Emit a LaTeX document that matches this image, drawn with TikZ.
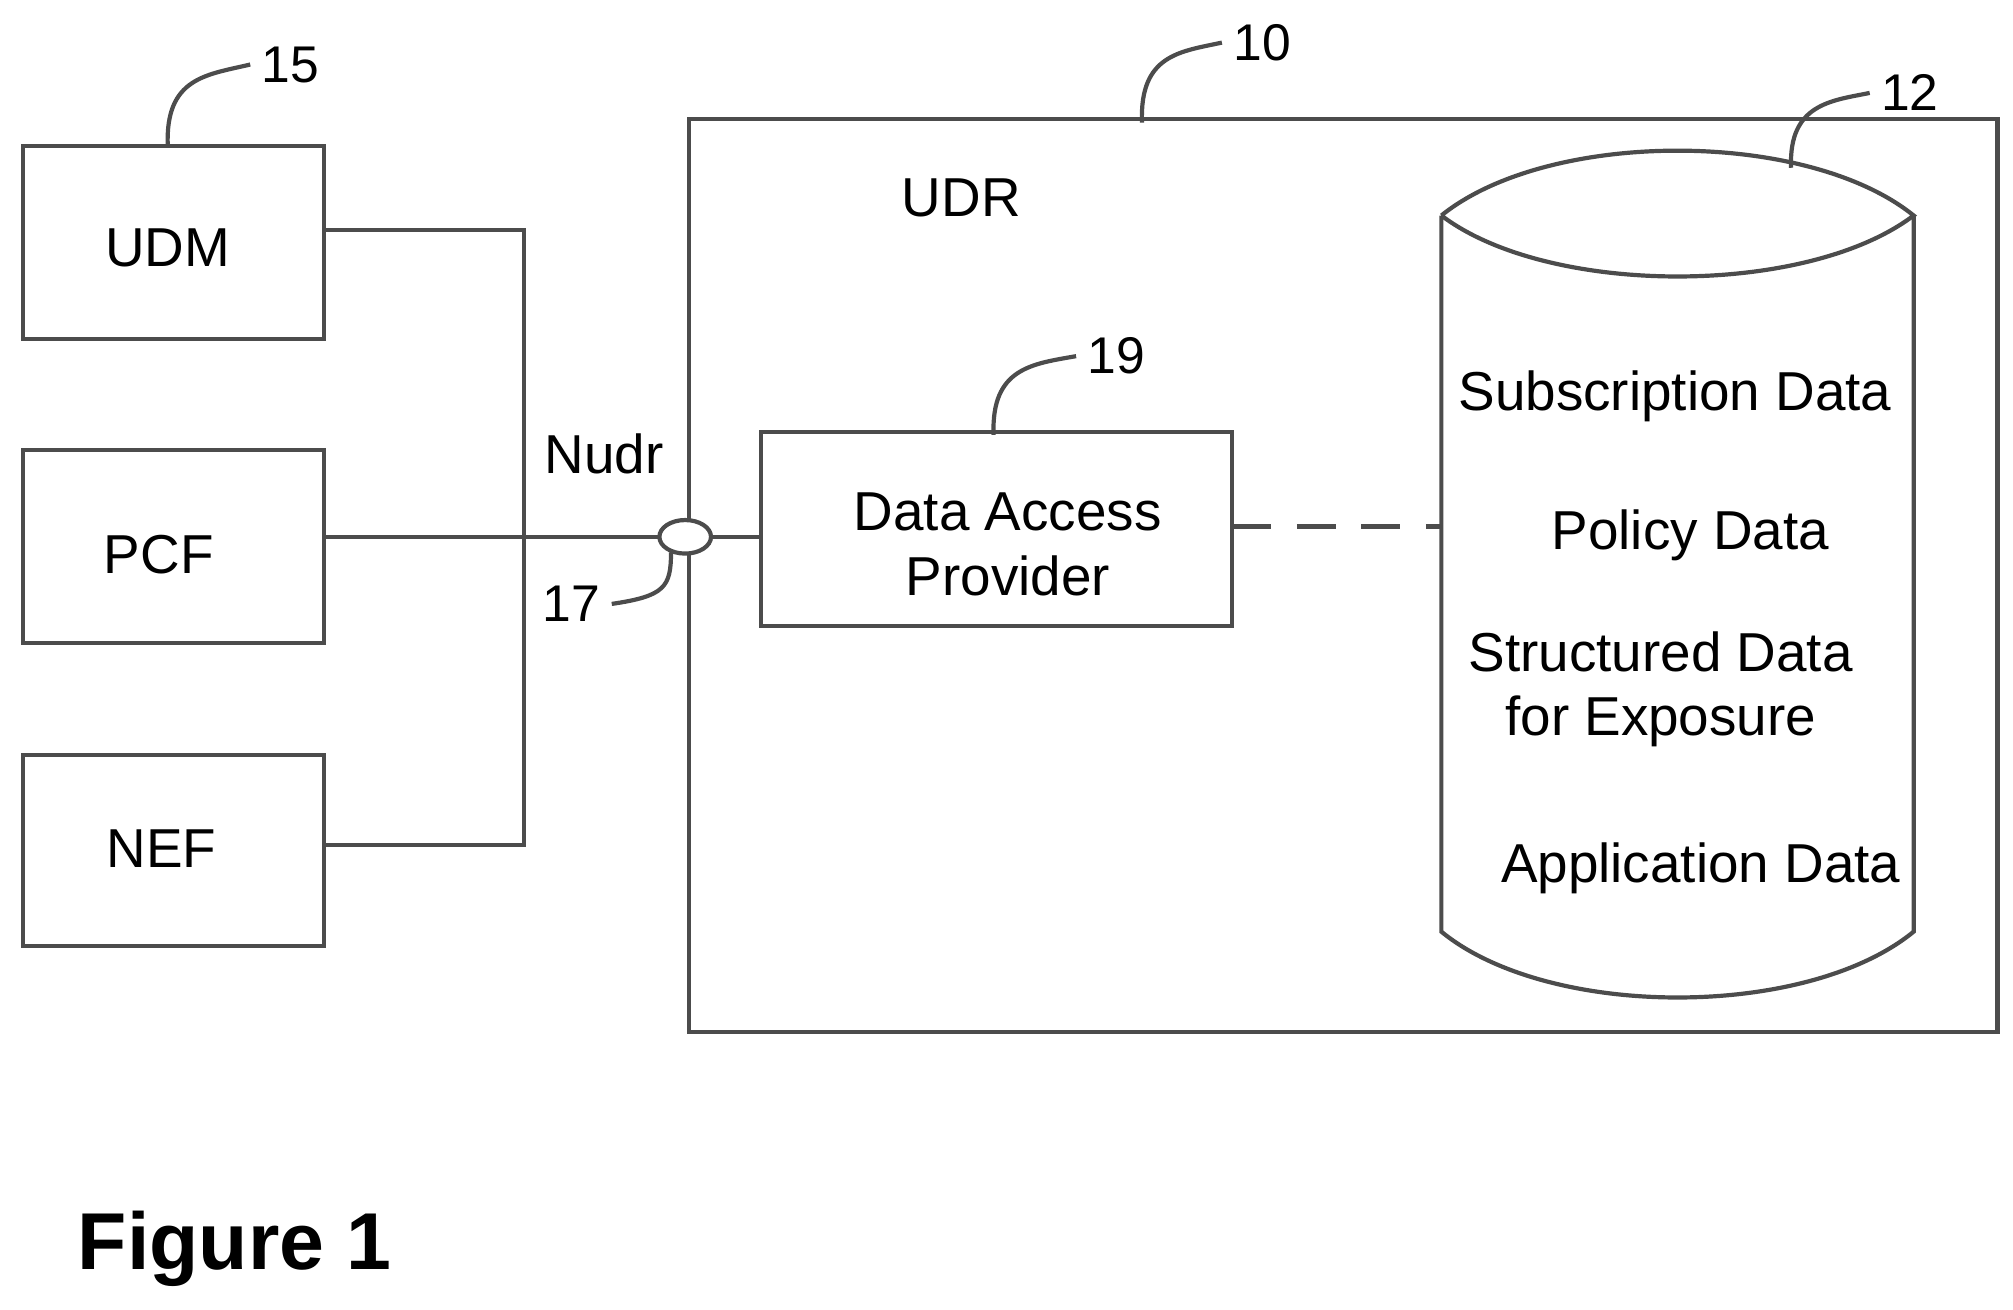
\documentclass[tikz,border=0pt]{standalone}
\usepackage{fontspec}
\setmainfont{Liberation Sans}
\begin{document}
\begin{tikzpicture}[x=0.4pt,y=-0.4pt,
  ln/.style={draw=black!70,line width=1.3pt},
  lbl/.style={font=\fontsize{17}{20}\selectfont},
  num/.style={font=\fontsize{16}{19}\selectfont},
  bx/.style={ln,fill=white}]
\useasboundingbox (0,0) rectangle (1560,1015);
% left boxes
\draw[ln] (251,178) -- (406,178) -- (406,655) -- (251,655);
\draw[ln] (251,416) -- (590,416);
\draw[bx] (18,113) rectangle (251,263);
\draw[bx] (18,349) rectangle (251,498);
\draw[bx] (18,585) rectangle (251,733);
\node[lbl] (udm) at (130,192) {UDM};
\node[lbl] (pcf) at (123,430) {PCF};
\node[lbl] (nef) at (125,658) {NEF};
% UDR box
\draw[ln] (534,92) rectangle (1548,800);
\node[lbl] (udr) at (745,153) {UDR};
\draw[ln,fill=white] (531,416) ellipse (20 and 13);
\coordinate (e) at (531,416);
\node[lbl] (nudr) at (468,352) {Nudr};
% DAP
\draw[bx] (590,335) rectangle (955,485);
\node[lbl,align=center] (dap) at (781,422) {Data Access\\Provider};
\draw[ln,dashed,dash pattern=on 12pt off 8pt] (955,408) -- (1117,408);
% cylinder
\draw[ln] (1117,167) .. controls (1200,100) and (1400,100) .. (1483,167)
  .. controls (1400,230) and (1200,230) .. (1117,167);
\draw[ln] (1117,167) -- (1117,722) .. controls (1200,790) and (1400,790) .. (1483,722) -- (1483,167);
\node[lbl] (s1) at (1298,307) {Subscription Data};
\node[lbl] (s2) at (1310,415) {Policy Data};
\node[lbl,align=center] (s3) at (1287,534) {Structured Data\\for Exposure};
\node[lbl] (s4) at (1318,673) {Application Data};
% reference numerals
\node[num] (n15) at (225,50) {15};
\draw[ln] (130,113) .. controls (128,60) and (160,58) .. (n15.west);
\node[num] (n10) at (978,33) {10};
\draw[ln] (885,95) .. controls (883,42) and (915,40) .. (n10.west);
\node[num] (n12) at (1480,72) {12};
\draw[ln] (1388,130) .. controls (1386,80) and (1420,78) .. (n12.west);
\node[num] (n19) at (865,276) {19};
\draw[ln] (770,337) .. controls (768,285) and (800,282) .. (n19.west);
\node[num] (n17) at (443,468) {17};
\draw[ln] (n17.east) .. controls (515,462) and (520,455) .. (520,428);
\node[font=\bfseries\fontsize{25}{30}\selectfont] (fig) at (182,968) {Figure 1};
\end{tikzpicture}
\end{document}
